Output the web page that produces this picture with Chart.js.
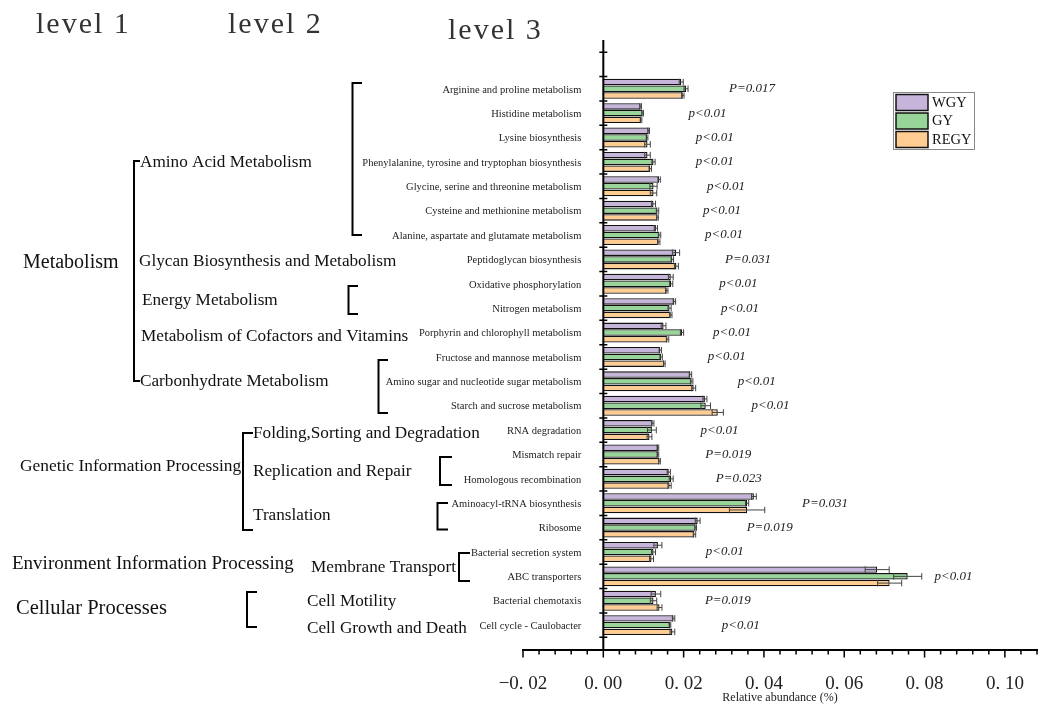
<!DOCTYPE html>
<html>
<head>
<meta charset="utf-8">
<title>Relative abundance of KEGG pathways</title>
<script src="https://cdn.jsdelivr.net/npm/chart.js@4.4.1/dist/chart.umd.min.js"></script>
<style>
body { margin: 0; background: #fff; }
#wrap { width: 1049px; height: 706px; }
</style>
</head>
<body>
<div id="wrap"><canvas id="chart" width="1049" height="706"></canvas></div>
<script>
var pathways = ["Arginine and proline metabolism", "Histidine metabolism", "Lysine biosynthesis",
  "Phenylalanine, tyrosine and tryptophan biosynthesis", "Glycine, serine and threonine metabolism",
  "Cysteine and methionine metabolism", "Alanine, aspartate and glutamate metabolism",
  "Peptidoglycan biosynthesis", "Oxidative phosphorylation", "Nitrogen metabolism",
  "Porphyrin and chlorophyll metabolism", "Fructose and mannose metabolism",
  "Amino sugar and nucleotide sugar metabolism", "Starch and sucrose metabolism", "RNA degradation",
  "Mismatch repair", "Homologous recombination", "Aminoacyl-tRNA biosynthesis", "Ribosome",
  "Bacterial secretion system", "ABC transporters", "Bacterial chemotaxis", "Cell cycle - Caulobacter"]

var groups = ["WGY", "GY", "REGY"]

var wgy  = [0.0194, 0.0093, 0.0113, 0.0110, 0.0139, 0.0125, 0.0131, 0.0181, 0.0168, 0.0177, 0.0150, 0.0142,
  0.0217, 0.0253, 0.0123, 0.0136, 0.0163, 0.0375, 0.0235, 0.0136, 0.0682, 0.0131, 0.0175]
var gy   = [0.0206, 0.0098, 0.0109, 0.0125, 0.0125, 0.0135, 0.0140, 0.0172, 0.0169, 0.0165, 0.0196, 0.0144,
  0.0220, 0.0255, 0.0121, 0.0136, 0.0169, 0.0358, 0.0230, 0.0125, 0.0758, 0.0125, 0.0166]
var regy = [0.0198, 0.0094, 0.0110, 0.0117, 0.0125, 0.0135, 0.0138, 0.0182, 0.0158, 0.0168, 0.0160, 0.0152,
  0.0225, 0.0285, 0.0115, 0.0140, 0.0165, 0.0358, 0.0227, 0.0120, 0.0713, 0.0140, 0.0172]

// standard errors
var wgyErr  = [0.0005, 0.0002, 0.0002, 0.0007, 0.0003, 0.0005, 0.0004, 0.0009, 0.0006, 0.0003, 0.0006, 0.0003,
  0.0003, 0.0005, 0.0003, 0.0002, 0.0004, 0.0006, 0.0006, 0.0010, 0.0030, 0.0012, 0.0003]
var gyErr   = [0.0005, 0.0002, 0.0002, 0.0004, 0.0009, 0.0003, 0.0003, 0.0003, 0.0004, 0.0004, 0.0004, 0.0003,
  0.0003, 0.0012, 0.0011, 0.0002, 0.0005, 0.0004, 0.0002, 0.0005, 0.0035, 0.0008, 0.0002]
var regyErr = [0.0003, 0.0002, 0.0007, 0.0003, 0.0008, 0.0002, 0.0003, 0.0005, 0.0003, 0.0003, 0.0003, 0.0002,
  0.0005, 0.0014, 0.0006, 0.0002, 0.0004, 0.0044, 0.0003, 0.0005, 0.0030, 0.0006, 0.0006]

var pText = ["P=0.017", "p<0.01", "p<0.01", "p<0.01", "p<0.01", "p<0.01", "p<0.01", "P=0.031", "p<0.01",
  "p<0.01", "p<0.01", "p<0.01", "p<0.01", "p<0.01", "p<0.01", "P=0.019", "P=0.023", "P=0.031", "P=0.019",
  "p<0.01", "p<0.01", "P=0.019", "p<0.01"]
// where each p label starts, in axis units
var pAt = [0.0313, 0.0212, 0.0230, 0.0230, 0.0258, 0.0248, 0.0253, 0.0303, 0.0289, 0.0293, 0.0273, 0.0260,
  0.0335, 0.0369, 0.0242, 0.0254, 0.0280, 0.0495, 0.0357, 0.0255, 0.0825, 0.0253, 0.0295]

var xTicks = [-0.02, 0.00, 0.02, 0.04, 0.06, 0.08, 0.10]

var colors = ["#c6b4da", "#98d598", "#ffcc91"]
var serif = "'Liberation Serif', 'Times New Roman', serif"

function rows(values){
  var out = []
  for (var i = 0; i < values.length; i++){
    out.push({x: values[i], y: i + 0.5})
  }
  return out
}

function bracket(ctx, x, y1, y2, xTop, xBottom){
  ctx.beginPath()
  ctx.moveTo(xTop, y1)
  ctx.lineTo(x, y1)
  ctx.lineTo(x, y2)
  ctx.lineTo(xBottom, y2)
  ctx.stroke()
}

function text(ctx, s, x, y, size){
  ctx.font = size + "px " + serif
  ctx.fillText(s, x, y)
}

var decor = {
  id: 'decor',
  afterDraw: function(chart){
    var ctx = chart.ctx
    var xs = chart.scales.x
    var ys = chart.scales.y
    var area = chart.chartArea
    var x0 = xs.getPixelForValue(0)
    var errs = [wgyErr, gyErr, regyErr]
    ctx.save()

    // error bars
    ctx.strokeStyle = '#444'
    ctx.lineWidth = 1
    for (var d = 0; d < errs.length; d++){
      var meta = chart.getDatasetMeta(d)
      var vals = chart.data.datasets[d].data
      for (var i = 0; i < meta.data.length; i++){
        var bar = meta.data[i]
        var lo = xs.getPixelForValue(vals[i].x - errs[d][i])
        var hi = xs.getPixelForValue(vals[i].x + errs[d][i])
        var h = bar.height / 2
        ctx.beginPath()
        ctx.moveTo(lo, bar.y); ctx.lineTo(hi, bar.y)
        ctx.moveTo(lo, bar.y - h); ctx.lineTo(lo, bar.y + h)
        ctx.moveTo(hi, bar.y - h); ctx.lineTo(hi, bar.y + h)
        ctx.stroke()
      }
    }

    // y axis at zero with crossing ticks
    ctx.strokeStyle = '#000'
    ctx.lineWidth = 2
    ctx.beginPath()
    ctx.moveTo(x0, area.top)
    ctx.lineTo(x0, area.bottom)
    ctx.stroke()
    ctx.lineWidth = 1.5
    ctx.beginPath()
    for (var b = -1; b <= pathways.length; b++){
      var yy = ys.getPixelForValue(b)
      ctx.moveTo(x0 - 4, yy)
      ctx.lineTo(x0 + 4, yy)
    }
    ctx.stroke()

    // x axis major and minor ticks
    ctx.beginPath()
    for (var k = 0; k <= 32; k++){
      var px = xs.getPixelForValue(xs.min + k * 0.004)
      ctx.moveTo(px, area.bottom)
      ctx.lineTo(px, area.bottom + (k % 5 === 0 ? 8 : 5))
    }
    ctx.stroke()

    // pathway names
    ctx.fillStyle = '#222'
    ctx.textAlign = 'right'
    ctx.textBaseline = 'middle'
    ctx.font = "10.5px " + serif
    for (var r = 0; r < pathways.length; r++){
      ctx.fillText(pathways[r], x0 - 22, ys.getPixelForValue(r + 0.5) + 1)
    }

    // p values
    ctx.textAlign = 'left'
    ctx.font = "italic 13px " + serif
    for (var p = 0; p < pText.length; p++){
      ctx.fillText(pText[p], xs.getPixelForValue(pAt[p]), ys.getPixelForValue(p + 0.5))
    }

    // legend
    ctx.strokeStyle = '#888'
    ctx.lineWidth = 1
    ctx.strokeRect(893.5, 92.5, 81, 57)
    ctx.font = "14.5px " + serif
    for (var g = 0; g < groups.length; g++){
      var sy = 94.5 + g * 18.5
      ctx.fillStyle = colors[g]
      ctx.fillRect(896, sy, 32, 16)
      ctx.strokeStyle = '#111'
      ctx.lineWidth = 1.5
      ctx.strokeRect(896, sy, 32, 16)
      ctx.fillStyle = '#111'
      ctx.fillText(groups[g], 932, sy + 8.5)
    }

    // headers
    ctx.fillStyle = '#333'
    ctx.font = "30px " + serif
    ctx.letterSpacing = "2px"
    ctx.fillText("level 1", 36, 25)
    ctx.fillText("level 2", 228, 25)
    ctx.fillText("level 3", 448, 31)
    ctx.letterSpacing = "0px"

    // level 1
    ctx.fillStyle = '#111'
    text(ctx, "Metabolism", 23, 263, 20)
    text(ctx, "Genetic Information Processing", 20, 466, 17.4)
    text(ctx, "Environment Information Processing", 12, 564, 19)
    text(ctx, "Cellular Processes", 16, 609, 20.5)

    // level 2
    text(ctx, "Amino Acid Metabolism", 140, 162, 17.2)
    text(ctx, "Glycan Biosynthesis and Metabolism", 139, 261, 17.2)
    text(ctx, "Energy Metabolism", 142, 300, 17.2)
    text(ctx, "Metabolism of Cofactors and Vitamins", 141, 336, 17.2)
    text(ctx, "Carbonhydrate Metabolism", 140, 381, 17.2)
    text(ctx, "Folding,Sorting and Degradation", 253, 433, 17.2)
    text(ctx, "Replication and Repair", 253, 471, 17.2)
    text(ctx, "Translation", 253, 515, 17.2)
    text(ctx, "Membrane Transport", 311, 567, 17.2)
    text(ctx, "Cell Motility", 307, 601, 17.2)
    text(ctx, "Cell Growth and Death", 307, 628, 17.2)

    // brackets
    ctx.strokeStyle = '#000'
    ctx.lineWidth = 2
    bracket(ctx, 134, 161, 381, 140, 140)
    bracket(ctx, 243, 433, 530, 253, 253)
    bracket(ctx, 247, 592, 627, 257, 257)
    bracket(ctx, 352.5, 83, 235, 362, 362)
    bracket(ctx, 348.5, 286, 314, 358, 358)
    bracket(ctx, 378.5, 360, 413, 388, 388)
    bracket(ctx, 440, 457, 485, 452, 452)
    bracket(ctx, 437.5, 503, 529.5, 448, 448)
    bracket(ctx, 459, 553, 581, 470, 470)

    ctx.restore()
  }
}

new Chart(document.getElementById('chart'), {
  type: 'bar',
  data: {
    datasets: [
      {label: groups[0], data: rows(wgy), backgroundColor: colors[0]},
      {label: groups[1], data: rows(gy), backgroundColor: colors[1]},
      {label: groups[2], data: rows(regy), backgroundColor: colors[2]}
    ]
  },
  options: {
    indexAxis: 'y',
    responsive: false,
    animation: false,
    layout: {padding: {left: 523, right: 12, top: 40, bottom: 0}},
    datasets: {
      bar: {borderColor: '#111', borderWidth: 1.3, categoryPercentage: 0.83, barPercentage: 0.96}
    },
    plugins: {legend: {display: false}, tooltip: {enabled: false}},
    scales: {
      x: {
        type: 'linear',
        min: -0.02,
        max: 0.108,
        grid: {display: false},
        border: {display: true, color: '#000', width: 2},
        afterBuildTicks: function(scale){
          scale.ticks = xTicks.map(function(v){ return {value: v} })
        },
        afterFit: function(scale){ scale.height = 56.5 },
        ticks: {
          padding: 15,
          color: '#222',
          font: {family: serif, size: 19},
          callback: function(v){
            var s = Math.abs(v).toFixed(2).replace('.', '. ')
            return v < -1e-9 ? '\u2212' + s : s
          }
        },
        title: {
          display: true,
          text: 'Relative abundance (%)',
          color: '#222',
          font: {family: serif, size: 12},
          padding: {top: 0, bottom: 1}
        }
      },
      y: {
        type: 'linear',
        reverse: true,
        min: -1.5,
        max: 23.5,
        position: {x: 0},
        afterBuildTicks: function(scale){
          scale.ticks = scale.ticks.filter(function(t){ return Number.isInteger(t.value) })
        },
        ticks: {display: false, stepSize: 1},
        grid: {color: '#c8c8c8', lineWidth: 1, drawTicks: false},
        border: {display: false, dash: [3, 3]}
      }
    }
  },
  plugins: [decor]
})
</script>
</body>
</html>
